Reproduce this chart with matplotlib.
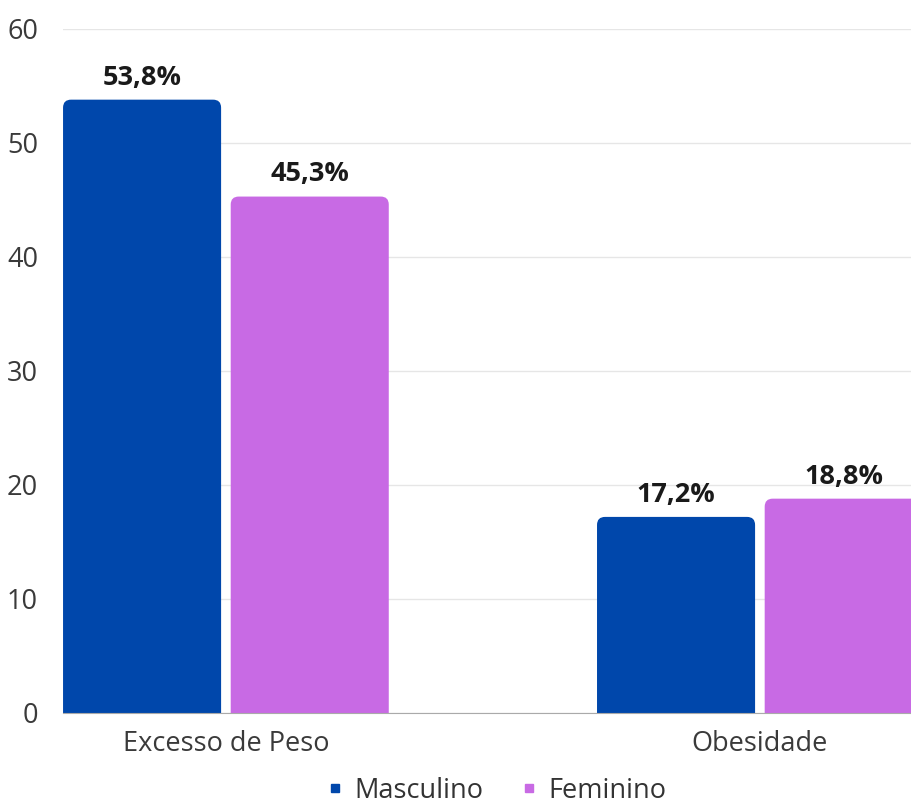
import matplotlib.pyplot as plt
import numpy as np
from matplotlib.patches import FancyBboxPatch
from matplotlib.lines import Line2D

# Data
categorias = ['Excesso de Peso', 'Obesidade']
masculino = [53.8, 17.2]
feminino = [45.3, 18.8]
series = ['Masculino', 'Feminino']
cores = ['#0047ab', '#c86ae4']
yticks = [0, 10, 20, 30, 40, 50, 60]

plt.rcParams['font.family'] = ['Open Sans', 'DejaVu Sans']

fig = plt.figure(figsize=(9.11, 8.05), dpi=100)
ax = fig.add_axes([0.0692, 0.1143, 0.9308, 0.8497])

x = np.arange(len(categorias))
w = 0.296
off = 0.157
ax.set_xlim(-0.305, 1.283)
ax.set_ylim(0, 60)

bars_m = ax.bar(x - off, masculino, w, color=cores[0])
bars_f = ax.bar(x + off, feminino, w, color=cores[1])

# swap plain bars for ones with rounded top corners
fig.canvas.draw()
inv = ax.transData.inverted()
p0 = inv.transform((0, 0))
p1 = inv.transform((1, 1))
xpp = p1[0] - p0[0]
ypp = p1[1] - p0[1]
raio = 8 * xpp
for bars, cor in [(bars_m, cores[0]), (bars_f, cores[1])]:
    for b in bars:
        b.set_visible(False)
        fb = FancyBboxPatch((b.get_x(), -2), b.get_width(), b.get_height() + 2,
                            boxstyle=f'round,pad=0,rounding_size={raio}',
                            mutation_aspect=ypp / xpp,
                            facecolor=cor, edgecolor='none', zorder=3)
        ax.add_patch(fb)
        ax.text(b.get_x() + b.get_width() / 2, b.get_height() + 0.8,
                f'{b.get_height():.1f}%'.replace('.', ','),
                ha='center', va='bottom', fontsize=19.5, fontweight='bold',
                color='#1a1a1a', clip_on=False, zorder=4)

ax.set_yticks(yticks)
ax.set_xticks(x)
ax.set_xticklabels(categorias)
ax.tick_params(axis='both', length=0, labelsize=19.5, labelcolor='#3a3a3a')
ax.tick_params(axis='y', pad=18)
ax.tick_params(axis='x', pad=12)
ax.grid(axis='y', color='#e6e6e6', linewidth=1)
ax.set_axisbelow(True)
for s in ['top', 'right', 'left']:
    ax.spines[s].set_visible(False)
ax.spines['bottom'].set_color('#aaaaaa')
ax.spines['bottom'].set_zorder(5)

handles = [Line2D([], [], marker='s', linestyle='none', markersize=6,
                  color=c) for c in cores]
ax.legend(handles, series, loc='center', bbox_to_anchor=(0.5, -0.114),
          ncol=2, frameon=False, fontsize=19.5, handletextpad=-0.3,
          columnspacing=0.7, labelcolor='#333333', borderpad=0)

fig.savefig('out.png', dpi=100)
